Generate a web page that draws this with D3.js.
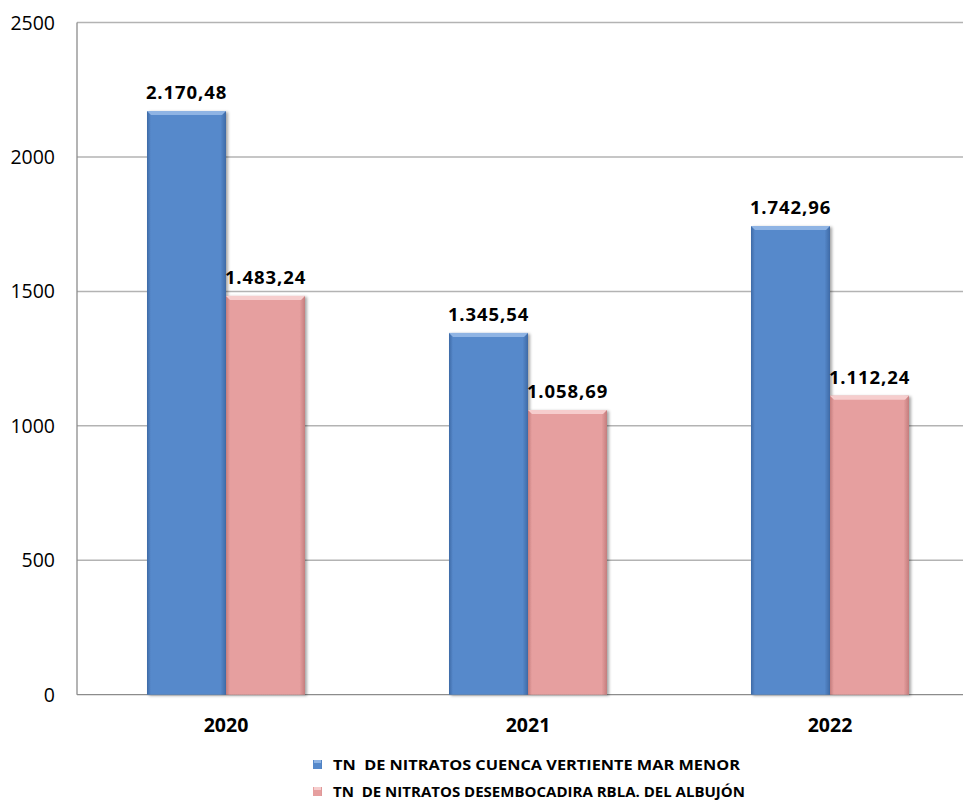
<!DOCTYPE html>
<html>
<head>
<meta charset="utf-8">
<title>Nitratos</title>
<style type="text/css">
body { margin: 0; background: #fff; }
text { font-family: "Open Sans", sans-serif; fill: #000; }
</style>
</head>
<body>
<div id="chart"></div>
<script src="https://cdn.jsdelivr.net/npm/d3@7"></script>
<script>
    // Datos
    var years = ['2020', '2021', '2022'];
    var cuenca = [2170.48, 1345.54, 1742.96];
    var albujon = [1483.24, 1058.69, 1112.24];
    var seriesNames = ['TN  DE NITRATOS CUENCA VERTIENTE MAR MENOR',
                       'TN  DE NITRATOS DESEMBOCADIRA RBLA. DEL ALBUJÓN'];
    var yTicks = [0, 500, 1000, 1500, 2000, 2500];

    var width = 963, height = 800;
    var axisX = 77, plotLeft = 75, plotRight = 981, plotTop = 22.5, plotBottom = 694.7;

    var svg = d3.select('#chart').append('svg')
        .attr('width', width)
        .attr('height', height);

    var defs = svg.append('defs');

    // horizontal gradients for the bevelled bars
    var palettes = [
        {id: 'gBlue', edge: '#3e6aa6', mid: '#5689cb', top: '#8fb4e4'},
        {id: 'gPink', edge: '#c47d7d', mid: '#e69f9f', top: '#f6cdcd'}
    ];
    palettes.forEach(function(p) {
        var g = defs.append('linearGradient').attr('id', p.id)
            .attr('x1', 0).attr('x2', 1).attr('y1', 0).attr('y2', 0);
        g.append('stop').attr('offset', '0%').attr('stop-color', p.edge);
        g.append('stop').attr('offset', '5%').attr('stop-color', p.mid);
        g.append('stop').attr('offset', '93%').attr('stop-color', p.mid);
        g.append('stop').attr('offset', '100%').attr('stop-color', p.edge);
    });

    var shadow = defs.append('filter').attr('id', 'shadow')
        .attr('x', '-10%').attr('y', '-10%').attr('width', '130%').attr('height', '130%');
    shadow.append('feDropShadow').attr('dx', 2).attr('dy', 1).attr('stdDeviation', 1.5)
        .attr('flood-color', '#000').attr('flood-opacity', 0.35);

    var x = d3.scaleBand().domain(years).range([plotLeft, plotRight]);
    var x1 = d3.scaleBand().domain([0, 1]).range([0, 158]);
    var y = d3.scaleLinear().domain([0, 2500]).range([plotBottom, plotTop]);

    // gridlines
    svg.append('g').selectAll('line')
        .data(yTicks.slice(1))
        .enter().append('line')
        .attr('x1', axisX).attr('x2', width)
        .attr('y1', function(d) { return y(d); })
        .attr('y2', function(d) { return y(d); })
        .attr('stroke', '#b3b3b3').attr('stroke-width', 1.5);

    // axes lines
    svg.append('line').attr('x1', axisX).attr('x2', axisX)
        .attr('y1', plotTop).attr('y2', plotBottom)
        .attr('stroke', '#8c8c8c').attr('stroke-width', 1.3);
    svg.append('line').attr('x1', axisX).attr('x2', width)
        .attr('y1', plotBottom).attr('y2', plotBottom)
        .attr('stroke', '#8c8c8c').attr('stroke-width', 1.3);

    // y tick labels
    svg.append('g').selectAll('text')
        .data(yTicks)
        .enter().append('text')
        .attr('x', 55)
        .attr('y', function(d) { return y(d); })
        .attr('dy', '0.36em')
        .attr('text-anchor', 'end')
        .style('font-size', '19.5px')
        .text(function(d) { return d; });

    // x labels
    svg.append('g').selectAll('text')
        .data(years)
        .enter().append('text')
        .attr('x', function(d) { return x(d) + x.bandwidth() / 2; })
        .attr('y', 732)
        .attr('text-anchor', 'middle')
        .style('font-size', '19.5px')
        .style('font-weight', 'bold')
        .text(function(d) { return d; });

    var fmt = function(v) {
        var s = v.toFixed(2).split('.');
        return s[0].replace(/\B(?=(\d{3})+(?!\d))/g, '.') + ',' + s[1];
    };

    var series = [cuenca, albujon];
    var bars = [];
    series.forEach(function(vals, si) {
        vals.forEach(function(v, i) {
            bars.push({s: si, year: years[i], value: v});
        });
    });

    var bw = x1.bandwidth();
    var groupOffset = (x.bandwidth() - 158) / 2;

    var bar = svg.append('g').selectAll('g.bar')
        .data(bars)
        .enter().append('g')
        .attr('class', 'bar')
        .attr('transform', function(d) {
            return 'translate(' + (x(d.year) + groupOffset + x1(d.s)) + ',0)';
        });

    bar.append('rect')
        .attr('x', 0)
        .attr('y', function(d) { return y(d.value); })
        .attr('width', bw)
        .attr('height', function(d) { return plotBottom - y(d.value); })
        .attr('fill', function(d) { return 'url(#' + palettes[d.s].id + ')'; })
        .attr('filter', 'url(#shadow)');

    // top bevel
    bar.append('path')
        .attr('d', function(d) {
            var t = y(d.value);
            return 'M0,' + t + 'L' + bw + ',' + t + 'L' + (bw - 4) + ',' + (t + 4) +
                'L4,' + (t + 4) + 'Z';
        })
        .attr('fill', function(d) { return palettes[d.s].top; });

    // value labels
    svg.append('g').selectAll('text')
        .data(bars)
        .enter().append('text')
        .attr('x', function(d) { return x(d.year) + groupOffset + x1(d.s) + bw / 2; })
        .attr('y', function(d) { return y(d.value) - 12; })
        .attr('text-anchor', 'middle')
        .style('font-size', '18.5px')
        .style('font-weight', 'bold')
        .style('letter-spacing', '0.9px')
        .text(function(d) { return fmt(d.value); });

    // legend
    var legendW = [407, 412];
    var legend = svg.append('g').selectAll('g')
        .data(seriesNames)
        .enter().append('g')
        .attr('transform', function(d, i) { return 'translate(313,' + (760 + i * 27) + ')'; });

    legend.append('rect')
        .attr('width', 9).attr('height', 9)
        .attr('fill', function(d, i) { return 'url(#' + palettes[i].id + ')'; });
    legend.append('rect')
        .attr('x', 1).attr('y', 0).attr('width', 7).attr('height', 3)
        .attr('fill', function(d, i) { return palettes[i].top; });

    legend.append('text')
        .attr('x', 20)
        .attr('y', 9.5)
        .style('font-size', '15px')
        .style('font-weight', 'bold')
        .attr('textLength', function(d, i) { return legendW[i]; })
        .attr('lengthAdjust', 'spacingAndGlyphs')
        .style('white-space', 'pre')
        .text(function(d) { return d; });
</script>
</body>
</html>
